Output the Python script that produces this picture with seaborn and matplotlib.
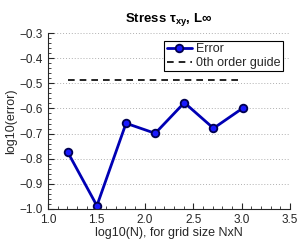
import matplotlib
matplotlib.use("Agg")
import matplotlib.pyplot as plt
import seaborn as sns
import pandas as pd
from matplotlib.ticker import MultipleLocator

log_n = [1.204, 1.505, 1.806, 2.107, 2.408, 2.709, 3.010]
log_err = [-0.774, -0.987, -0.659, -0.699, -0.577, -0.679, -0.599]
guide_x = [1.204, 3.010]
guide_y = [-0.485, -0.485]

sns.set_style("ticks")
plt.rcParams['font.family'] = ['Liberation Sans', 'DejaVu Sans']
plt.rcParams['mathtext.fontset'] = 'custom'
plt.rcParams['mathtext.rm'] = 'Liberation Sans'
plt.rcParams['mathtext.bf'] = 'Liberation Sans:bold'

fig = plt.figure(figsize=(3.0, 2.43), dpi=100)
ax = fig.add_axes([0.16, 0.14, 0.807, 0.724])

df = pd.DataFrame({"x": log_n, "y": log_err})
sns.lineplot(data=df, x="x", y="y", ax=ax, color="#0000b4", linewidth=2,
             marker="o", markersize=5.5, markerfacecolor="#1a1aff",
             markeredgecolor="#000050", markeredgewidth=1.3, label="Error")
gdf = pd.DataFrame({"x": guide_x, "y": guide_y})
sns.lineplot(data=gdf, x="x", y="y", ax=ax, color="black", linewidth=1.2,
             linestyle=(0, (4, 3)), label="0th order guide")

ax.set_xlim(1, 3.5)
ax.set_ylim(-1, -0.3)
ax.xaxis.set_major_locator(MultipleLocator(0.5))
ax.xaxis.set_minor_locator(MultipleLocator(0.1))
ax.yaxis.set_major_locator(MultipleLocator(0.1))
ax.yaxis.set_minor_locator(MultipleLocator(0.02))
ax.tick_params(direction="in", labelsize=8.5, length=4, width=0.8)
ax.tick_params(which="minor", direction="in", length=2, width=0.6)
ax.yaxis.grid(True, linestyle=(0, (1, 2)), color="#b0b0b0", linewidth=0.7)
ax.spines["top"].set_visible(False)
ax.spines["right"].set_visible(False)
ax.set_xlabel("log10(N), for grid size NxN", fontsize=9, labelpad=1)
ax.set_ylabel("log10(error)", fontsize=9, labelpad=2)
ax.set_title("Stress τ$_{\\mathbf{xy}}$, L∞", fontsize=9.5, fontweight="bold", pad=8,
             color="black")
leg = ax.legend(loc="upper right", fontsize=9, frameon=True, fancybox=False,
                edgecolor="black", framealpha=1, borderpad=0.2, handlelength=2.0,
                handletextpad=0.3, labelspacing=0.15, borderaxespad=0.6)
leg.get_frame().set_linewidth(0.8)

fig.savefig("out.png", dpi=100)
